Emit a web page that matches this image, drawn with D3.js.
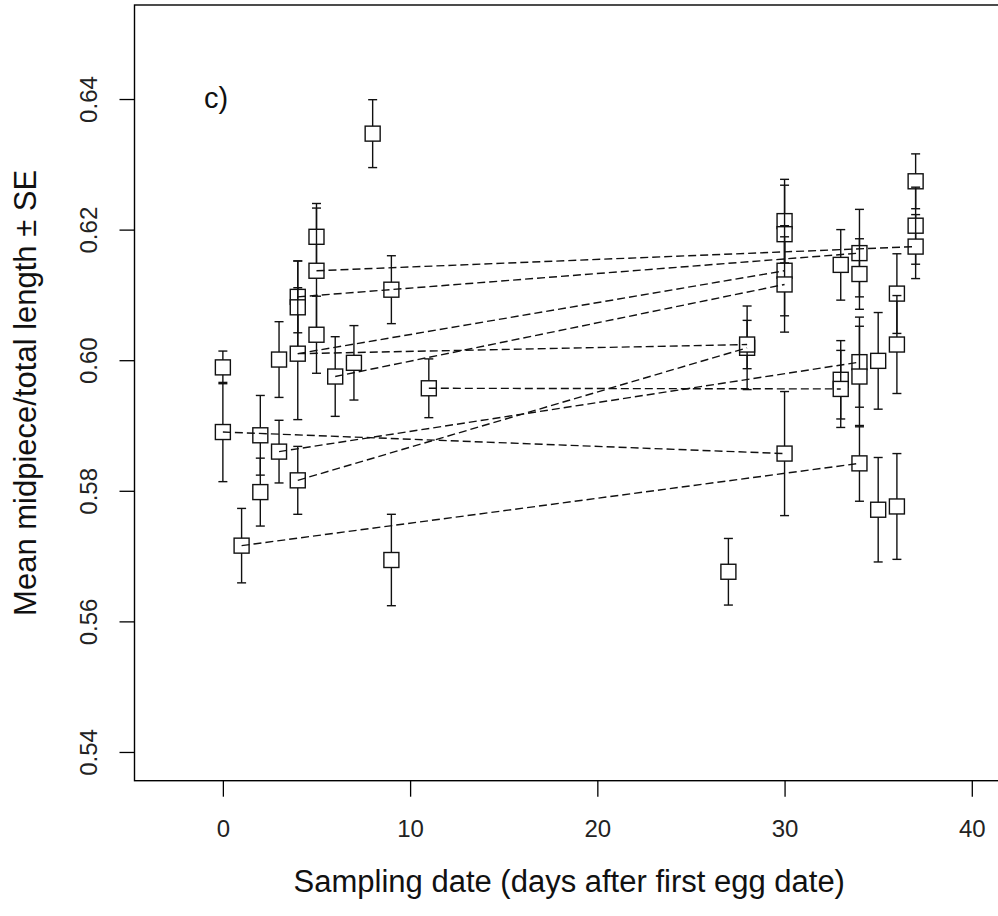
<!DOCTYPE html>
<html>
<head>
<meta charset="utf-8">
<script src="https://cdn.jsdelivr.net/npm/d3@7"></script>
<style>
  body { margin: 0; background: #fff; }
  svg { display: block; font-family: "Liberation Sans", Arial, sans-serif; }
</style>
</head>
<body>
<div id="chart"></div>
<script>
// sampling day, mean ratio and SE for each male sample
var days  = [0, 0, 1, 2, 2, 3, 3, 4, 4, 4, 4, 5, 5, 5, 6, 7, 8, 9, 9, 11,
             27, 28, 28, 30, 30, 30, 30, 30, 33, 33, 33, 34, 34, 34, 34, 34,
             35, 35, 36, 36, 36, 37, 37, 37];
var means = [0.5989, 0.5890, 0.5716, 0.5885, 0.5798, 0.6001, 0.5860, 0.6097, 0.6081, 0.6010, 0.5816,
             0.6189, 0.6137, 0.6039, 0.5975, 0.5996, 0.6347, 0.6108, 0.5694, 0.5957,
             0.5676, 0.6019, 0.6024, 0.6213, 0.6193, 0.6137, 0.6116, 0.5857,
             0.6146, 0.5970, 0.5956, 0.6164, 0.6132, 0.5997, 0.5975, 0.5842,
             0.5999, 0.5771, 0.6102, 0.6024, 0.5776, 0.6274, 0.6206, 0.6174];
var ses   = [0.0025, 0.0076, 0.0057, 0.0061, 0.0052, 0.0058, 0.0048, 0.0055, 0.0071, 0.0101, 0.0052,
             0.0051, 0.0096, 0.0059, 0.0061, 0.0057, 0.0052, 0.0052, 0.0070, 0.0045,
             0.0051, 0.0064, 0.0037, 0.0064, 0.0075, 0.0069, 0.0073, 0.0095,
             0.0054, 0.0060, 0.0059, 0.0067, 0.0054, 0.0069, 0.0077, 0.0058,
             0.0074, 0.0080, 0.0061, 0.0075, 0.0081, 0.0042, 0.0059, 0.0049];

// repeated samples of the same male (indices into the arrays above)
var pairFrom = [12, 7, 9, 14, 9, 19, 10, 6, 1, 2];
var pairTo   = [43, 31, 25, 26, 22, 30, 21, 33, 27, 35];

var xTicks = [0, 10, 20, 30, 40];
var yTicks = [0.54, 0.56, 0.58, 0.60, 0.62, 0.64];

var svgWidth = 998;
var svgHeight = 916;

var plot = { left: 134.5, top: 5, right: 1004, bottom: 780.7 };

var svg = d3.select("#chart")
    .append("svg")
    .attr("width", svgWidth)
    .attr("height", svgHeight);

var x = d3.scaleLinear().domain([-4.72, 41.72]).range([plot.left, plot.right]);
var y = d3.scaleLinear().domain([0.5356, 0.6544]).range([plot.bottom, plot.top]);

// axes
var xAxis = svg.append("g")
    .attr("transform", `translate(0, ${plot.bottom})`)
    .call(d3.axisBottom(x).tickValues(xTicks).tickSize(16).tickFormat(d3.format("d")));

xAxis.selectAll("text")
    .attr("y", 56)
    .attr("dy", 0)
    .style("font-size", "24px")
    .attr("fill", "#222");

var yAxis = svg.append("g")
    .attr("transform", `translate(${plot.left}, 0)`)
    .call(d3.axisLeft(y).tickValues(yTicks).tickSize(15).tickFormat(d3.format(".2f")));

yAxis.selectAll("text")
    .attr("x", 0)
    .attr("dy", 0)
    .attr("transform", "translate(-38, 0) rotate(-90)")
    .attr("text-anchor", "middle")
    .style("font-size", "24px")
    .attr("fill", "#222");

svg.selectAll(".domain").remove();
svg.selectAll(".tick line").attr("stroke", "#000").attr("stroke-width", 1.3);

// plot box
svg.append("rect")
    .attr("x", plot.left)
    .attr("y", plot.top)
    .attr("width", plot.right - plot.left)
    .attr("height", plot.bottom - plot.top)
    .attr("fill", "none")
    .attr("stroke", "#000")
    .attr("stroke-width", 1.4);

// error bars and squares, drawn point by point
var boxSize = 15;
var capHalf = 4.5;
var marks = svg.append("g");

days.forEach(function (d, i) {
    var cx = x(d);
    var lo = y(means[i] - ses[i]);
    var hi = y(means[i] + ses[i]);
    var g = marks.append("g")
        .attr("stroke", "#111")
        .attr("stroke-width", 1.4);
    g.append("line").attr("x1", cx).attr("x2", cx).attr("y1", lo).attr("y2", hi);
    g.append("line").attr("x1", cx - capHalf).attr("x2", cx + capHalf).attr("y1", lo).attr("y2", lo);
    g.append("line").attr("x1", cx - capHalf).attr("x2", cx + capHalf).attr("y1", hi).attr("y2", hi);
    g.append("rect")
        .attr("x", cx - boxSize / 2)
        .attr("y", y(means[i]) - boxSize / 2)
        .attr("width", boxSize)
        .attr("height", boxSize)
        .attr("fill", "#fff");
});

// dashed lines joining repeated samples
svg.append("g")
    .selectAll("line")
    .data(pairFrom)
    .enter().append("line")
    .attr("x1", function (a) { return x(days[a]); })
    .attr("y1", function (a) { return y(means[a]); })
    .attr("x2", function (a, k) { return x(days[pairTo[k]]); })
    .attr("y2", function (a, k) { return y(means[pairTo[k]]); })
    .attr("stroke", "#111")
    .attr("stroke-width", 1.4)
    .attr("stroke-dasharray", "8,4");

// axis titles
svg.append("text")
    .attr("x", (plot.left + plot.right) / 2)
    .attr("y", 892)
    .attr("text-anchor", "middle")
    .style("font-size", "31px")
    .attr("fill", "#111")
    .text("Sampling date (days after first egg date)");

svg.append("text")
    .attr("transform", `translate(36, ${(plot.top + plot.bottom) / 2}) rotate(-90)`)
    .attr("text-anchor", "middle")
    .style("font-size", "31px")
    .attr("fill", "#111")
    .text("Mean midpiece/total length ± SE");

// panel letter
svg.append("text")
    .attr("x", 204)
    .attr("y", 108)
    .style("font-size", "29px")
    .attr("fill", "#111")
    .text("c)");
</script>
</body>
</html>
